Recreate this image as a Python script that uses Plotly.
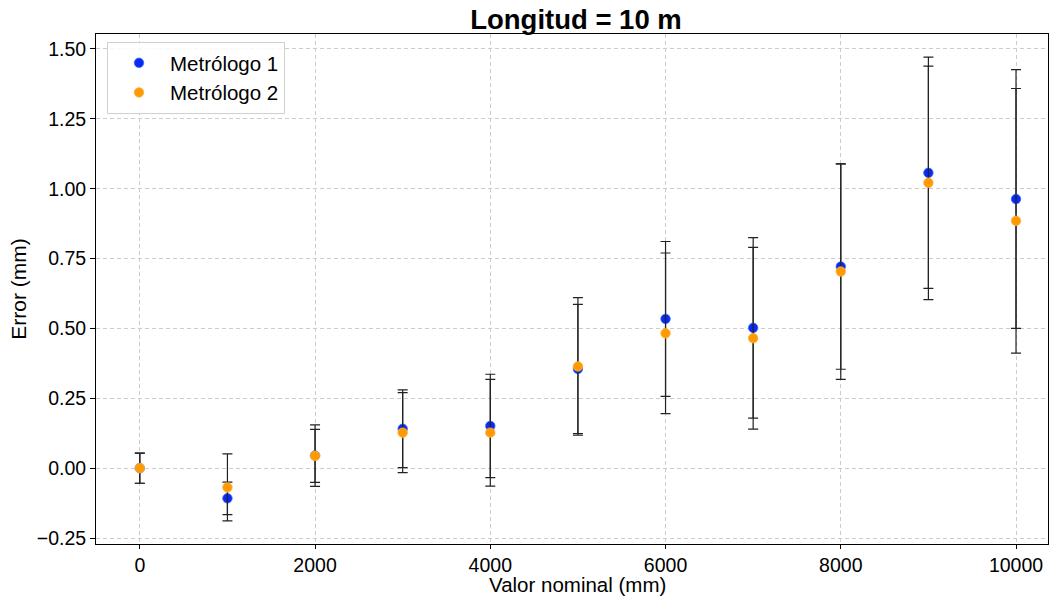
import plotly.graph_objects as go

x_vals = [0, 1000, 2000, 3000, 4000, 5000, 6000, 7000, 8000, 9000, 10000]
met1_err = [0.0, -0.108, 0.045, 0.141, 0.151, 0.355, 0.534, 0.502, 0.7215, 1.057, 0.963]
met1_unc = [0.054, 0.058, 0.110, 0.139, 0.185, 0.231, 0.277, 0.323, 0.3675, 0.414, 0.463]
met2_err = [0.0, -0.069, 0.044, 0.127, 0.127, 0.364, 0.4825, 0.465, 0.7035, 1.021, 0.885]
met2_unc = [0.054, 0.120, 0.095, 0.143, 0.191, 0.246, 0.2875, 0.325, 0.3855, 0.418, 0.4735]

x_ticks = [0, 2000, 4000, 6000, 8000, 10000]
y_ticks = [-0.25, 0.0, 0.25, 0.5, 0.75, 1.0, 1.25, 1.5]

FONT = "Liberation Sans, Arial, sans-serif"
W, H = 1050, 601
L, R, T, B = 96, 2, 34, 57
PW, PH = W - L - R, H - T - B

fig = go.Figure()
fig.add_trace(go.Scatter(
    x=x_vals, y=met1_err, mode="markers", name="Metrólogo 1",
    marker=dict(color="#0a2af0", size=9.5, line=dict(color="#3d6cff", width=0.8)),
    error_y=dict(type="data", array=met1_unc, visible=True, color="#222222", thickness=1.2, width=5),
))
fig.add_trace(go.Scatter(
    x=x_vals, y=met2_err, mode="markers", name="Metrólogo 2",
    marker=dict(color="#ff9a00", size=9.5, line=dict(color="#ffb040", width=0.8)),
    error_y=dict(type="data", array=met2_unc, visible=True, color="#222222", thickness=1.2, width=5),
))

fig.update_layout(
    width=W, height=H,
    paper_bgcolor="white", plot_bgcolor="white",
    margin=dict(l=L, r=R, t=T, b=B),
    font=dict(family=FONT, size=19.5, color="black"),
    title=dict(text="<b>Longitud = 10 m</b>", x=576 / W, xanchor="center",
               y=1 - 19 / H, yanchor="middle",
               font=dict(family=FONT, size=27.5, color="black")),
    showlegend=True,
    legend=dict(x=(107 - L) / PW, y=1 - (42 - T) / PH, xanchor="left", yanchor="top",
                bgcolor="rgba(255,255,255,0.85)", bordercolor="#d0d0d0", borderwidth=1,
                font=dict(family=FONT, size=20.5, color="black"), itemwidth=52,
                tracegroupgap=2),
    annotations=[dict(text="Valor nominal (mm)", xref="paper", yref="paper",
                      x=(577 - L) / PW, y=-(584 - (H - B)) / PH,
                      xanchor="center", yanchor="middle", showarrow=False,
                      font=dict(family=FONT, size=20.5, color="black"))],
)
fig.update_xaxes(
    range=[-500, 10365], tickvals=x_ticks, ticktext=[str(v) for v in x_ticks],
    showline=True, linecolor="black", linewidth=1, mirror=True, automargin=False,
    ticks="outside", ticklen=4, tickcolor="black", tickfont=dict(size=19.5),
    showgrid=True, gridcolor="#cccccc", griddash="4px,3px", gridwidth=1, zeroline=False,
)
fig.update_yaxes(
    range=[-0.2714, 1.5536], tickvals=y_ticks, ticktext=[f"{v:.2f}".replace("-", "−") for v in y_ticks],
    title=dict(text="Error (mm)", font=dict(size=21), standoff=4),
    showline=True, linecolor="black", linewidth=1, mirror=True, automargin=False,
    ticks="outside", ticklen=5, tickcolor="black", tickfont=dict(size=19.5),
    showgrid=True, gridcolor="#cccccc", griddash="4px,3px", gridwidth=1, zeroline=False,
)

fig.write_html("out.html", config={"displayModeBar": False},
               post_script="document.body.style.margin='0';")
